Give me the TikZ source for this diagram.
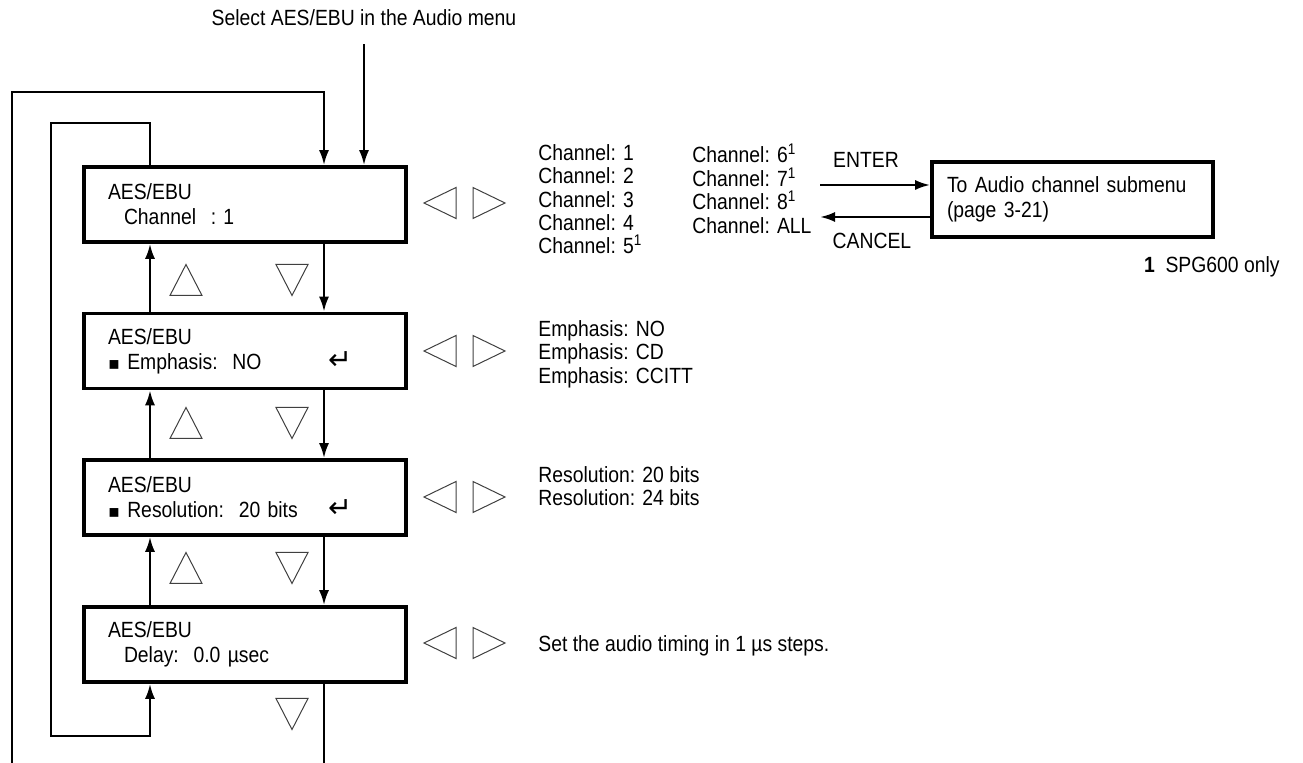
\documentclass[tikz,border=0pt]{standalone}
\usepackage{fontspec}
\setmainfont{Liberation Sans}[FakeStretch=0.88]
\newfontfamily\dejavu{DejaVu Sans}
\usetikzlibrary{arrows.meta,positioning,calc}
\newcommand{\sqbox}{{\dejavu\scalebox{0.8}{▪}}}
\newcommand{\retkey}{{\dejavu\scalebox{1.3}{↵}}\rule{15pt}{0pt}}

\begin{document}
\begin{tikzpicture}[x=0.5pt, y=-0.5pt,
    menu/.style={draw, line width=1.8pt, minimum height=37.5pt, text width=137pt,
                 inner xsep=12pt, align=left, font=\fontsize{11}{12.5}\selectfont},
    lst/.style={inner sep=0pt, anchor=north west, align=left,
                font=\fontsize{11}{11.7}\selectfont},
    lbl/.style={inner sep=0pt, font=\fontsize{11}{13}\selectfont},
    flow/.style={line width=1.2pt, -{Latex[length=7.5pt,width=5pt]}},
    conn/.style={line width=1.2pt},
    key/.style={draw=black!75, line width=0.5pt},
    upkey/.pic={\draw[key] (-16,15.5) -- (16,15.5) -- (0,-15.5) -- cycle;},
    dnkey/.pic={\draw[key] (-16,-15.5) -- (16,-15.5) -- (0,15.5) -- cycle;},
    lrkeys/.pic={\draw[key] (-8.5,-15.5) -- (-8.5,15.5) -- (-40.5,0) -- cycle;
                 \draw[key] (8.5,-15.5) -- (8.5,15.5) -- (40.5,0) -- cycle;}
  ]
    \useasboundingbox (0,0) rectangle (1303,763);

    % Menu boxes
    \node[menu] (chan) at (245,204.5) {AES/EBU\\\hspace*{8pt}Channel\ \ :\ 1};
    \node[menu] (emph) at (245,351)   {AES/EBU\\\sqbox\ Emphasis:\ \ NO\hfill\retkey};
    \node[menu] (reso) at (245,497.5) {AES/EBU\\\sqbox\ Resolution:\ \ 20 bits\hfill\retkey};
    \node[menu] (dlay) at (245,644.5) {AES/EBU\\\hspace*{8pt}Delay:\ \ 0.0 µsec};

    % Title and entry
    \node[lbl] (sel) at (364,18) {Select AES/EBU in the Audio menu};
    \draw[flow] ([yshift=-9pt]sel.south) -- (sel.south |- chan.north);

    % Keys
    \pic at (186,280) {upkey};  \pic at (292,280) {dnkey};
    \pic at (186,423) {upkey};  \pic at (292,423) {dnkey};
    \pic at (186,568) {upkey};  \pic at (292,568) {dnkey};
    \pic at (292,714) {dnkey};
    \pic at (464.5,203) {lrkeys};
    \pic at (464.5,351) {lrkeys};
    \pic at (464.5,497) {lrkeys};
    \pic at (464.5,643) {lrkeys};

    % Columns of the up and down connectors
    \coordinate (upx) at (150,0);
    \coordinate (dnx) at (324,0);

    % Down and up between the boxes
    \draw[flow] (chan.south -| dnx) -- (emph.north -| dnx);
    \draw[flow] (emph.south -| dnx) -- (reso.north -| dnx);
    \draw[flow] (reso.south -| dnx) -- (dlay.north -| dnx);
    \draw[flow] (emph.north -| upx) -- (chan.south -| upx);
    \draw[flow] (reso.north -| upx) -- (emph.south -| upx);
    \draw[flow] (dlay.north -| upx) -- (reso.south -| upx);

    % Outer loop
    \coordinate (outB) at (12,763);
    \coordinate (outT) at (324,92);
    \draw[flow] (outB) |- (outT) -- (outT |- chan.north);
    \draw[conn] (dlay.south -| dnx) -- (outB -| dnx);

    % Inner loop
    \coordinate (inTL) at (51,123);
    \coordinate (inBL) at (51,736);
    \draw[flow] (chan.north -| upx) |- (inTL) -- (inBL) -| (dlay.south -| upx);

    % Choices
    \node[lst] (chA) at (538,144) {Channel: 1\\Channel: 2\\Channel: 3\\Channel: 4\\Channel: 5\textsuperscript{1}};
    \node[lst] (chB) at (692,144) {Channel: 6\textsuperscript{1}\\Channel: 7\textsuperscript{1}\\Channel: 8\textsuperscript{1}\\Channel: ALL};
    \node[lst] (emL) at (538,320) {Emphasis: NO\\Emphasis: CD\\Emphasis: CCITT};
    \node[lst] (reL) at (538,466) {Resolution: 20 bits\\Resolution: 24 bits};
    \node[lst] (dlL) at (538,635) {Set the audio timing in 1 µs steps.};

    % Submenu
    \node[menu, text width=125.5pt, inner xsep=7.5pt] (sub) at (1072.5,199.5) {To Audio channel submenu\\(page 3-21)};
    \node[lbl] (ent) at (866,160) {ENTER};
    \node[lbl] (can) at (872,241) {CANCEL};
    \coordinate (entL) at (820,185);
    \coordinate (canL) at (820,217);
    \draw[flow] (entL) -- (entL -| sub.west);
    \draw[flow] (canL -| sub.west) -- (canL);
    \node[lbl, anchor=east] (note) at (1280,267) {\textbf{1}\ \ SPG600 only};
  \end{tikzpicture}
\end{document}
